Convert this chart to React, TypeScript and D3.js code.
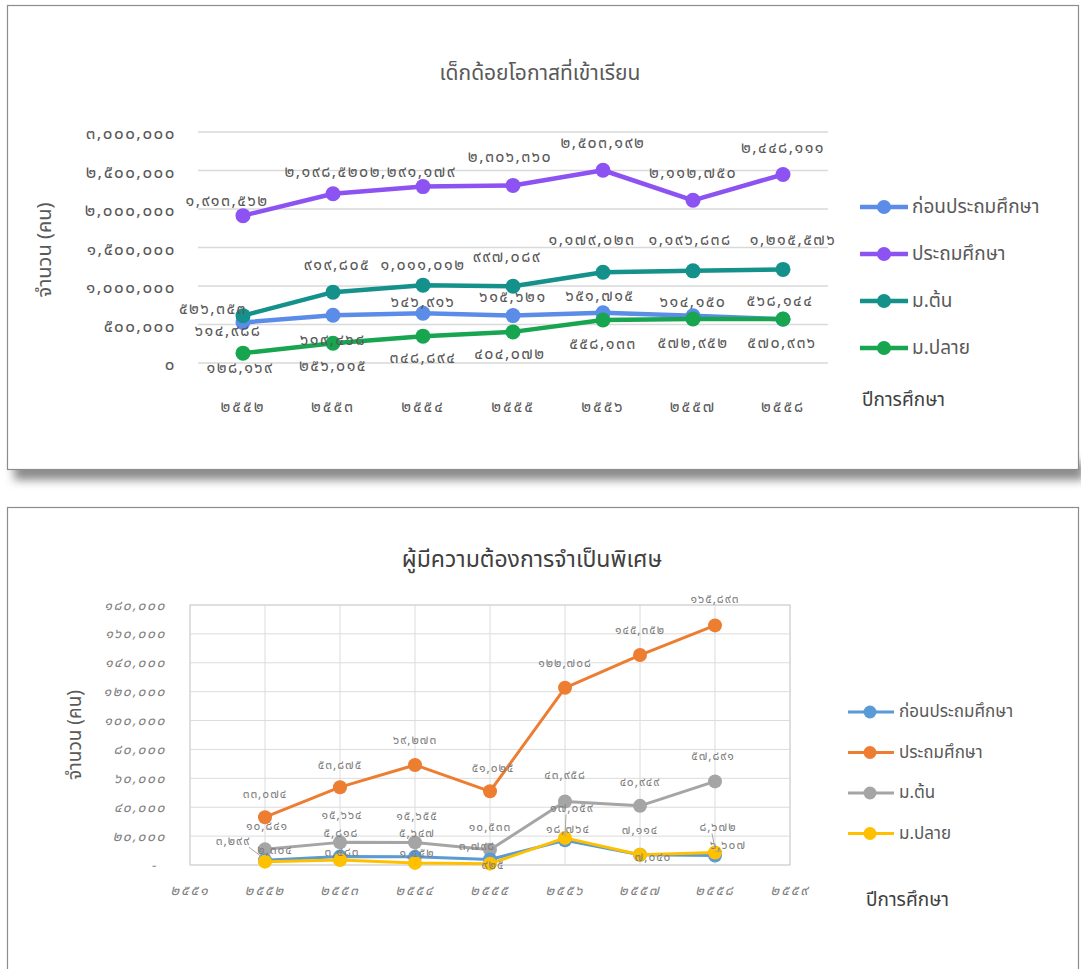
import React from 'react';
import * as d3 from 'd3';

// ---------- DATA (top chart: เด็กด้อยโอกาสที่เข้าเรียน) ----------
const topYears = ['2552', '2553', '2554', '2555', '2556', '2557', '2558'];
const topPreschool = [526353, 619468, 646916, 615621, 651715, 614150, 568144];
const topPrimary = [1913562, 2198520, 2291179, 2306360, 2503192, 2112750, 2448111];
const topLowerSec = [614988, 919805, 1011012, 997089, 1179023, 1196838, 1215576];
const topUpperSec = [128169, 256015, 348894, 404072, 558133, 572952, 570936];
const topYTicks = [0, 500000, 1000000, 1500000, 2000000, 2500000, 3000000];

// ---------- DATA (bottom chart: ผู้มีความต้องการจำเป็นพิเศษ) ----------
const botYears = [2552, 2553, 2554, 2555, 2556, 2557, 2558];
const botAxisYears = [2551, 2552, 2553, 2554, 2555, 2556, 2557, 2558, 2559];
const botPreschool = [3299, 5818, 5647, 3798, 17059, 7114, 6607];
const botPrimary = [33074, 53875, 69273, 51025, 122708, 145352, 165893];
const botLowerSec = [10841, 15664, 15655, 10533, 43958, 40949, 57891];
const botUpperSec = [2304, 3483, 1452, 925, 18764, 7040, 8672];
const botYTicks = [0, 20000, 40000, 60000, 80000, 100000, 120000, 140000, 160000, 180000];

const seriesNames = ['ก่อนประถมศึกษา', 'ประถมศึกษา', 'ม.ต้น', 'ม.ปลาย'];

// ---------- styling / layout ----------
const topColors = ['#5b8ce8', '#8c52f2', '#13918a', '#17a550'];
const botColors = ['#5b9bd5', '#ed7d31', '#a5a5a5', '#ffc000'];

// label offsets [dx, dy] relative to each point (layout only)
const topLabelOffsets = [
  [[-30, -13], [0, 25], [0, -11], [0, -19], [-3, -17], [0, -14], [-3, -18]],
  [[-16, -15], [-6, -22], [-10, -15], [-3, -28], [0, -27], [0, -27], [0, -26]],
  [[-15, 15], [4, -27], [0, -20], [-6, -29], [-11, -32], [-3, -31], [10, -29]],
  [[-3, 15], [0, 23], [0, 22], [-3, 22], [0, 24], [0, 24], [-1, 24]],
];
const botLabelOffsets = [
  [[-32, -19], [1, -24], [2, -24], [-13, -14], [7, -32], [0, -25], [13, -10]],
  [[0, -23], [0, -22], [0, -25], [3, -23], [0, -25], [0, -25], [0, -26]],
  [[2, -23], [2, -27], [2, -26], [0, -23], [0, -27], [0, -24], [-2, -25]],
  [[10, -12], [2, -8], [2, -10], [3, 1], [3, -9], [13, 2], [3, -25]],
];
const botLeaders = [
  [true, false, false, false, true, false, true],
  [false, false, false, false, false, false, false],
  [false, false, false, false, false, false, false],
  [false, false, false, false, false, false, true],
];

const thaiDigits = '๐๑๒๓๔๕๖๗๘๙';
const toThai = (s: string) => s.replace(/\d/g, (d) => thaiDigits[+d]);
const fmt = (n: number) => toThai(d3.format(',')(n));

const FONT = "'Noto Sans Thai', 'Noto Sans Thai UI', 'Tahoma', 'Loma', 'Garuda', 'Noto Sans', sans-serif";

function TopChart() {
  const x = d3.scaleBand<string>().domain(topYears).range([198, 828]).padding(0);
  const y = d3.scaleLinear().domain([0, 3000000]).range([363, 132]);
  const cx = (yr: string) => (x(yr) as number) + x.bandwidth() / 2;
  const data = [topPreschool, topPrimary, topLowerSec, topUpperSec];
  const line = d3.line<number>().x((_, i) => cx(topYears[i])).y((d) => y(d));
  const drawOrder = [0, 3, 2, 1];
  return (
    <g>
      <text x={540} y={73} textAnchor="middle" dominantBaseline="central" fontSize={21} fill="#595959" fontFamily={FONT}>
        เด็กด้อยโอกาสที่เข้าเรียน
      </text>
      {topYTicks.map((t) => (
        <g key={t}>
          <line x1={198} x2={828} y1={y(t)} y2={y(t)} stroke="#d9d9d9" strokeWidth={1.5} />
          <text x={176} y={y(t) + 2} textAnchor="end" dominantBaseline="central" fontSize={17} letterSpacing={1.5} fill="#595959" fontFamily={FONT}>
            {fmt(t)}
          </text>
        </g>
      ))}
      {topYears.map((yr) => (
        <text key={yr} x={cx(yr)} y={407} textAnchor="middle" dominantBaseline="central" fontSize={16} letterSpacing={2} fill="#595959" fontFamily={FONT}>
          {toThai(yr)}
        </text>
      ))}
      <text transform="translate(45,250) rotate(-90)" textAnchor="middle" dominantBaseline="central" fontSize={20} fill="#595959" fontFamily={FONT}>
        จำนวน (คน)
      </text>
      {drawOrder.map((si) => (
        <g key={si}>
          <path d={line(data[si]) as string} fill="none" stroke={topColors[si]} strokeWidth={4.5} strokeLinejoin="round" />
          {data[si].map((v, i) => (
            <circle key={i} cx={cx(topYears[i])} cy={y(v)} r={7.5} fill={topColors[si]} />
          ))}
        </g>
      ))}
      {drawOrder.map((si) => (
        <g key={'l' + si}>
          {data[si].map((v, i) => (
            <text key={i} x={cx(topYears[i]) + topLabelOffsets[si][i][0]} y={y(v) + topLabelOffsets[si][i][1]} textAnchor="middle" dominantBaseline="central" fontSize={16} letterSpacing={1.5} fill="#595959" fontFamily={FONT}>
              {fmt(v)}
            </text>
          ))}
        </g>
      ))}
      {seriesNames.map((n, i) => {
        const ly = 207 + i * 47;
        return (
          <g key={n}>
            <line x1={860} x2={908} y1={ly} y2={ly} stroke={topColors[i]} strokeWidth={4.5} />
            <circle cx={884} cy={ly} r={7} fill={topColors[i]} />
            <text x={912} y={ly} dominantBaseline="central" fontSize={19} fill="#595959" fontFamily={FONT}>
              {n}
            </text>
          </g>
        );
      })}
      <text x={862} y={400} dominantBaseline="central" fontSize={19} fill="#404040" fontFamily={FONT}>
        ปีการศึกษา
      </text>
    </g>
  );
}

function BottomChart() {
  const x = d3.scaleLinear().domain([2551, 2559]).range([190, 790]);
  const y = d3.scaleLinear().domain([0, 180000]).range([865, 605]);
  const data = [botPreschool, botPrimary, botLowerSec, botUpperSec];
  const line = d3.line<number>().x((_, i) => x(botYears[i])).y((d) => y(d));
  const drawOrder = [1, 2, 0, 3];
  return (
    <g>
      <text x={532} y={560} textAnchor="middle" dominantBaseline="central" fontSize={23} fill="#404040" fontFamily={FONT}>
        ผู้มีความต้องการจำเป็นพิเศษ
      </text>
      {botYTicks.map((t) => (
        <g key={t}>
          <line x1={190} x2={790} y1={y(t)} y2={y(t)} stroke="#dcdcdc" strokeWidth={1} />
          <text x={t === 0 ? 157 : 166} y={y(t)} textAnchor="end" dominantBaseline="central" fontSize={14} fontStyle="italic" letterSpacing={1.5} fill="#7f7f7f" fontFamily={FONT}>
            {t === 0 ? '-' : fmt(t)}
          </text>
        </g>
      ))}
      {botAxisYears.map((yr) => (
        <g key={yr}>
          <line x1={x(yr)} x2={x(yr)} y1={605} y2={865} stroke="#dcdcdc" strokeWidth={1} />
          <text x={x(yr)} y={890} textAnchor="middle" dominantBaseline="central" fontSize={14} fontStyle="italic" letterSpacing={2} fill="#7f7f7f" fontFamily={FONT}>
            {toThai(String(yr))}
          </text>
        </g>
      ))}
      <rect x={190} y={605} width={600} height={260} fill="none" stroke="#d0d0d0" strokeWidth={1} />
      <text transform="translate(75,735) rotate(-90)" textAnchor="middle" dominantBaseline="central" fontSize={19} fill="#595959" fontFamily={FONT}>
        จำนวน (คน)
      </text>
      {drawOrder.map((si) => (
        <g key={si}>
          <path d={line(data[si]) as string} fill="none" stroke={botColors[si]} strokeWidth={3} strokeLinejoin="round" />
          {data[si].map((v, i) => (
            <circle key={i} cx={x(botYears[i])} cy={y(v)} r={7} fill={botColors[si]} />
          ))}
        </g>
      ))}
      {drawOrder.map((si) => (
        <g key={'l' + si}>
          {data[si].map((v, i) => {
            const px = x(botYears[i]);
            const py = y(v);
            const lx = px + botLabelOffsets[si][i][0];
            const ly = py + botLabelOffsets[si][i][1];
            return (
              <g key={i}>
                {botLeaders[si][i] && (
                  <line x1={lx + (lx < px ? 16 : -6)} y1={ly + 6} x2={px + (lx < px ? -4 : 0)} y2={py - 4} stroke="#a6a6a6" strokeWidth={1} />
                )}
                <text x={lx} y={ly} textAnchor="middle" dominantBaseline="central" fontSize={12} letterSpacing={1} fill="#7f7f7f" fontFamily={FONT}>
                  {fmt(v)}
                </text>
              </g>
            );
          })}
        </g>
      ))}
      {seriesNames.map((n, i) => {
        const ly = 712 + i * 40.5;
        return (
          <g key={n}>
            <line x1={848} x2={894} y1={ly} y2={ly} stroke={botColors[i]} strokeWidth={3} />
            <circle cx={870} cy={ly} r={6.5} fill={botColors[i]} />
            <text x={899} y={ly} dominantBaseline="central" fontSize={17} fill="#595959" fontFamily={FONT}>
              {n}
            </text>
          </g>
        );
      })}
      <text x={866} y={900} dominantBaseline="central" fontSize={19} fill="#404040" fontFamily={FONT}>
        ปีการศึกษา
      </text>
    </g>
  );
}

export default function App() {
  return (
    <svg width={1081} height={969} style={{ position: 'absolute', left: 0, top: 0, background: '#ffffff' }}>
      <defs>
        <filter id="shadow" x="-10%" y="-200%" width="120%" height="500%">
          <feGaussianBlur stdDeviation="5" />
        </filter>
      </defs>
      <rect x={0} y={0} width={1081} height={969} fill="#ffffff" />
      <rect x={14} y={462} width={1070} height={18} fill="#8a8a8a" filter="url(#shadow)" />
      <rect x={7.5} y={5.5} width={1071} height={464} fill="#ffffff" stroke="#8c8c8c" strokeWidth={1.2} />
      <rect x={7.5} y={507.5} width={1071} height={470} fill="#ffffff" stroke="#8c8c8c" strokeWidth={1.2} />
      <TopChart />
      <BottomChart />
    </svg>
  );
}
